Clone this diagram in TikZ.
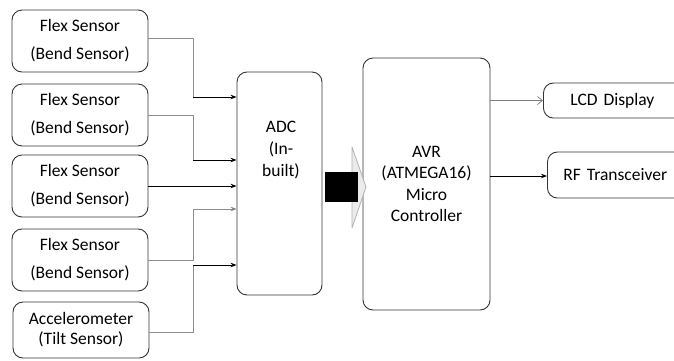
\documentclass[tikz,border=0pt]{standalone}
\usepackage{fontspec}
\setmainfont{Carlito}
\usetikzlibrary{arrows.meta,calc}

\begin{document}
\begin{tikzpicture}[x=1pt, y=-1pt, line join=round, >=Stealth,
  box/.style={draw=black!80, line width=0.9pt, rounded corners=10pt, align=center, inner sep=0pt},
  sensor/.style={box, minimum width=136, minimum height=62, font=\fontsize{17.5}{28}\selectfont},
  outbox/.style={box, align=left, anchor=west, font=\fontsize{17.5}{20}\selectfont},
  greywire/.style={draw=black!45, line width=0.7pt},
  wire/.style={draw=black, line width=0.9pt, -{Stealth[length=6pt,width=4.5pt]}}]
  \useasboundingbox (0,0) rectangle (674,360);
  % Sensor column on the left.
  \node[sensor] (s1) at (80,41)  {Flex Sensor\\(Bend Sensor)};
  \node[sensor] (s2) at (80,115) {Flex Sensor\\(Bend Sensor)};
  \node[sensor] (s3) at (80,186) {Flex Sensor\\(Bend Sensor)};
  \node[sensor] (s4) at (80,260) {Flex Sensor\\(Bend Sensor)};
  \node[sensor, minimum height=56, font=\fontsize{17.5}{20}\selectfont] (acc) at (81,330) {Accelerometer\\(Tilt Sensor)};
  % Converter and controller blocks.
  \node[box, minimum width=85, minimum height=223] (adc) at (279.5,183.5) {};
  \node[align=center, font=\fontsize{17.5}{22}\selectfont] (adc-text) at (281,150) {ADC\\(In-\\built)};
  \node[box, minimum width=127, minimum height=252, font=\fontsize{17.5}{21.5}\selectfont] (avr) at (426.5,184)
    {AVR\\(ATMEGA16)\\Micro\\Controller};
  % Outputs, running off the right edge.
  \node[outbox, minimum height=35, text width=118, inner xsep=27] (lcd) at (543,100.5) {LCD Display};
  \node[outbox, minimum height=46, text width=130, inner xsep=16] (rf) at (547,175) {RF Transceiver};
  % Inputs of the ADC and the bus line.
  \coordinate (bus) at (193,0);
  \coordinate (in1) at (adc.west |- 0,97);
  \coordinate (in2) at (adc.west |- 0,160);
  \coordinate (in4) at (adc.west |- 0,209);
  \coordinate (in5) at (adc.west |- 0,265);
  \draw[greywire] ([yshift=3]s1.east) -| (bus |- in1);
  \draw[wire] (bus |- in1) -- (in1);
  \draw[greywire] (s2.east) -| (bus |- in2);
  \draw[wire] (bus |- in2) -- (in2);
  \draw[wire] (s3.east) -- (s3.east -| adc.west);
  \draw[greywire, -{Stealth[length=6pt,width=4.5pt,fill=black]}] (s4.east) -| (bus |- in4) -- (in4);
  \draw[greywire] ([yshift=-2]acc.east) -| (bus |- in5);
  \draw[wire] (bus |- in5) -- (in5);
  % Block arrow from the ADC to the controller.
  \filldraw[draw=black!30, fill=black!8, line width=0.8pt] (352,147) -- (366,187) -- (352,228) -- cycle;
  \fill[black] (325,172) rectangle (358,202);
  % Outputs of the controller.
  \draw[draw=black!50, line width=0.7pt, -{Straight Barb[length=5pt,width=8pt]}] (avr.east |- lcd.west) -- (lcd.west);
  \draw[wire] (avr.east |- 0,176) -- (rf.west |- 0,176);
\end{tikzpicture}
\end{document}
